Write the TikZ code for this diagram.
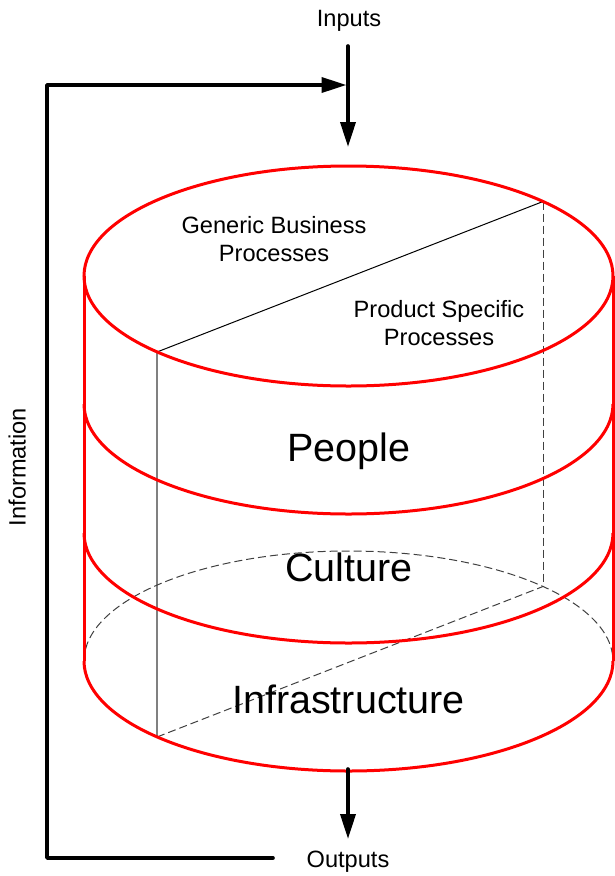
\documentclass[tikz,border=0pt]{standalone}
\usepackage{fontspec}
\setmainfont{Liberation Sans}
\usetikzlibrary{arrows.meta}
\begin{document}
\begin{tikzpicture}[x=1pt,y=1pt,
  redline/.style={draw=red, line width=3pt},
  blackline/.style={line width=3.6pt, line cap=round, line join=round},
  bigtip/.style={-{Triangle[length=25pt,width=15pt]}},
  smalltext/.style={font=\fontsize{23.6}{28.5}\selectfont, inner sep=0pt},
  bigtext/.style={font=\fontsize{39.5}{47}\selectfont, inner sep=0pt},
  guide/.style={line width=1pt},
  greyguide/.style={line width=1.5pt, draw=black!50},
  hidden/.style={line width=1pt, dash pattern=on 8pt off 4pt, draw=black!75}]
\useasboundingbox (0,0) rectangle (615,-876);
% centres of the layers
\coordinate (topC) at (348.5,-276);
\coordinate (lA) at (84,-404);
\coordinate (lB) at (84,-533);
\coordinate (lC) at (84,-661);
\coordinate (sideLT) at (84,-276);
\coordinate (sideRT) at (613,-276);
\coordinate (sideRB) at (613,-661);
% guide points
\coordinate (gTL) at (157,-352);
\coordinate (gTR) at (543,-201.5);
\coordinate (gBL) at (157,-737);
\coordinate (gBR) at (543,-586.5);
% guide lines
\draw[greyguide] (gTL) -- (gBL);
\draw[guide] (gTL) -- (gTR);
\draw[hidden] (gTR) -- (gBR);
\draw[hidden] (gBL) -- (gBR);
\draw[hidden] (lC) arc [start angle=180, end angle=0, x radius=264.5pt, y radius=110pt];
% cylinder
\draw[redline] (topC) ellipse [x radius=264.5pt, y radius=110pt];
\draw[redline] (lA) arc [start angle=180, end angle=360, x radius=264.5pt, y radius=110pt];
\draw[redline] (lB) arc [start angle=180, end angle=360, x radius=264.5pt, y radius=110pt];
\draw[redline] (lC) arc [start angle=180, end angle=360, x radius=264.5pt, y radius=110pt];
\draw[redline] (sideLT) -- (lC);
\draw[redline] (sideRT) -- (sideRB);
% texts
\node[smalltext, anchor=base] (inputs) at (349,-26.5) {Inputs};
\node[smalltext, anchor=base] (outputs) at (348,-867) {Outputs};
\node[smalltext, anchor=base, rotate=90] (info) at (25.5,-467) {Information};
\node[smalltext, anchor=base, align=center] (generic) at (274,-261.5) {Generic Business\\Processes};
\node[smalltext, anchor=base, align=center] (product) at (439,-345.5) {Product Specific\\Processes};
\node[bigtext, anchor=base] (people) at (349,-461) {People};
\node[bigtext, anchor=base] (culture) at (349,-581) {Culture};
\node[bigtext, anchor=base] (infra) at (348.5,-713) {Infrastructure};
% arrows
\coordinate (fbStart) at (273,-858);
\coordinate (fbC1) at (47,-858);
\coordinate (fbC2) at (47,-85);
\coordinate (fbEnd) at (346.5,-85);
\draw[blackline, bigtip] (fbStart) -- (fbC1) -- (fbC2) -- (fbEnd);
\coordinate (inTop) at (348,-46);
\coordinate (inTip) at (348,-147);
\draw[blackline, bigtip] (inTop) -- (inTip);
\coordinate (outTop) at (348,-769);
\coordinate (outTip) at (348,-839);
\draw[blackline, bigtip] (outTop) -- (outTip);
\end{tikzpicture}
\end{document}
